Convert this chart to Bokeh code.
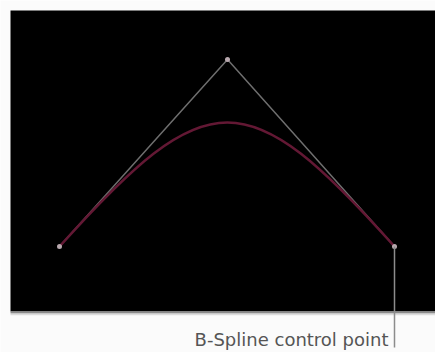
from bokeh.plotting import figure
from bokeh.models import Range1d
from bokeh.core.properties import value
from bokeh.embed import file_html
from bokeh.resources import INLINE

# Control points of the B-spline (page pixel units, y downward)
ctrl_x = [59, 227, 394]
ctrl_y = [246, 59, 246]
# pull of the curve towards the middle control point
tension = 0.885
label_text = ["B-Spline control point"]
callout_index = 2
label_y = 347

p = figure(width=435, height=352, output_backend="svg", toolbar_location=None,
           x_range=Range1d(0, 435), y_range=Range1d(352, 0),
           min_border=0, outline_line_color=None)
p.axis.visible = False
p.grid.visible = False
p.background_fill_color = "#fbfbfb"
p.border_fill_color = "#fbfbfb"

# dark viewport
p.quad(left=[10], right=[435], top=[10], bottom=[311], fill_color="#000000", line_color=None)
p.segment(x0=[10], y0=[312], x1=[435], y1=[312], line_color="#8a8a8a", line_width=2)
p.segment(x0=[10], y0=[314], x1=[435], y1=[314], line_color="#dcdcdc", line_width=1.5)

# control polygon
p.line(ctrl_x, ctrl_y, line_color="#6e6e6e", line_width=1.5)

# curve (cubic Bezier from end points, pulled toward middle control point)
cx0 = ctrl_x[0] + tension * (ctrl_x[1] - ctrl_x[0])
cy0 = ctrl_y[0] + tension * (ctrl_y[1] - ctrl_y[0])
cx1 = ctrl_x[2] + tension * (ctrl_x[1] - ctrl_x[2])
cy1 = ctrl_y[2] + tension * (ctrl_y[1] - ctrl_y[2])
p.bezier(x0=[ctrl_x[0]], y0=[ctrl_y[0]], x1=[ctrl_x[2]], y1=[ctrl_y[2]],
         cx0=[cx0], cy0=[cy0], cx1=[cx1], cy1=[cy1],
         line_color="#631834", line_width=2.5)

# control points
p.scatter(ctrl_x, ctrl_y, size=5, fill_color="#b8a8ae", line_color=None)

# callout
p.segment(x0=[ctrl_x[callout_index]], y0=[ctrl_y[callout_index]],
          x1=[ctrl_x[callout_index]], y1=[label_y], line_color="#8c8c8c", line_width=1.5)
p.text(x=[ctrl_x[callout_index] - 6], y=[label_y + 2], text=label_text,
       text_font=value("DejaVu Sans"), text_font_size="18px", text_color="#555555",
       text_align="right", text_baseline="bottom")

open("out.html", "w").write(file_html(p, INLINE))
